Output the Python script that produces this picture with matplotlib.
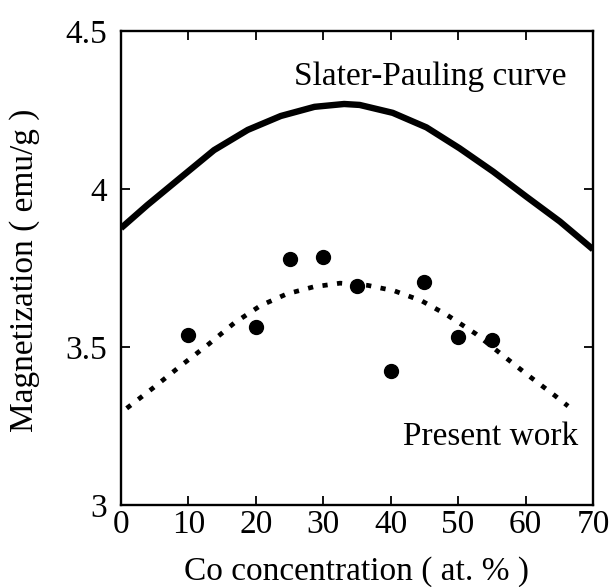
import matplotlib
matplotlib.use("Agg")
import matplotlib.pyplot as plt

plt.rcParams['font.family'] = ['Liberation Serif', 'DejaVu Serif']

# Slater-Pauling curve
sp_x = [0, 3.9, 8.9, 13.8, 18.8, 23.7, 28.7, 33.1, 35.4, 40.3, 45.3, 50.2, 55.2, 60.1, 65.1, 70]
sp_y = [3.876, 3.949, 4.037, 4.123, 4.187, 4.231, 4.260, 4.269, 4.266, 4.241, 4.195, 4.129, 4.055, 3.976, 3.897, 3.809]

# Measured data (present work)
co_x = [10, 20, 25, 30, 35, 40, 45, 50, 55]
mag_y = [3.537, 3.564, 3.778, 3.786, 3.694, 3.425, 3.705, 3.533, 3.522]

# Dotted trend through present work
fit_x = [0.85, 4.86, 8.77, 13.0, 16.8, 20.7, 24.6, 28.5, 32.5, 36.6, 40.5, 44.6, 48.3, 52.6, 56.3, 60.4, 64.3, 66.3]
fit_y = [3.306, 3.372, 3.439, 3.509, 3.576, 3.631, 3.668, 3.690, 3.702, 3.695, 3.678, 3.646, 3.602, 3.542, 3.479, 3.410, 3.347, 3.313]

xticks = [0, 10, 20, 30, 40, 50, 60, 70]
yticks = [3, 3.5, 4, 4.5]
ytick_labels = ['3', '3.5', '4', '4.5']

fig = plt.figure(figsize=(6.11, 5.87), dpi=100)
ax = fig.add_axes([0.198, 0.1397, 0.7725, 0.8075])

ax.plot(sp_x, sp_y, color='black', lw=4.6, solid_capstyle='butt', solid_joinstyle='round')
ax.plot(fit_x, fit_y, color='black', lw=3.4, linestyle=(0, (1.1, 2.0)), dash_capstyle='butt')
ax.plot(co_x, mag_y, 'o', color='black', markersize=10, linestyle='none')

ax.set_xlim(0, 70)
ax.set_ylim(3, 4.5)
ax.set_xticks(xticks)
ax.set_xticklabels([str(v) for v in xticks])
ax.set_yticks(yticks)
ax.set_yticklabels(ytick_labels)

for s in ax.spines.values():
    s.set_linewidth(1.7)
ax.tick_params(direction='in', length=6.5, width=1.3, top=True, right=True, labelsize=24)
ax.tick_params(axis='x', pad=3)
ax.tick_params(axis='y', pad=10)

ax.text(66.1, 4.329, 'Slater-Pauling curve', ha='right', va='baseline', fontsize=24)
ax.text(67.8, 3.19, 'Present work', ha='right', va='baseline', fontsize=24)

fig.text(0.584, 0.027, 'Co concentration ( at. % )', ha='center', va='center', fontsize=24)
fig.text(0.041, 0.540, 'Magnetization ( emu/g )', ha='center', va='center', rotation=90, fontsize=24)

fig.savefig('out.png', dpi=100, facecolor='white')
